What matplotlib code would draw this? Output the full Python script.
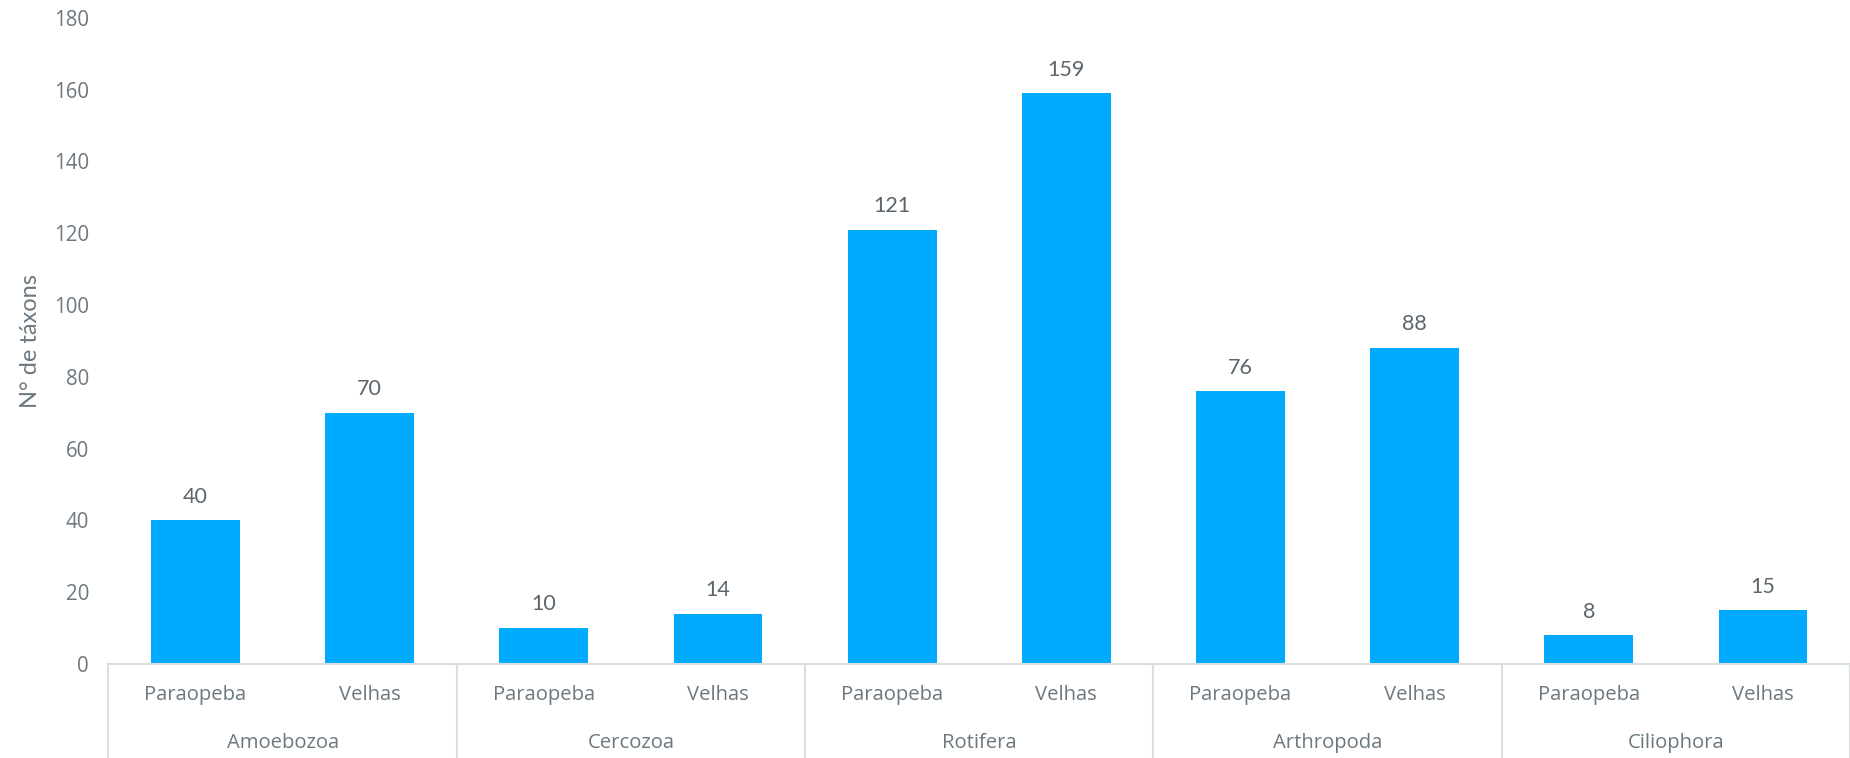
import matplotlib
matplotlib.use("Agg")
import matplotlib.pyplot as plt
from matplotlib.transforms import blended_transform_factory

groups = ["Amoebozoa", "Cercozoa", "Rotifera", "Arthropoda", "Ciliophora"]
rivers = ["Paraopeba", "Velhas"]
paraopeba = [40, 10, 121, 76, 8]
velhas = [70, 14, 159, 88, 15]
yticks = [0, 20, 40, 60, 80, 100, 120, 140, 160, 180]

bar_color = "#00AAFF"
text_color = "#6C7880"
label_color = "#5B656C"
line_color = "#D9DEDF"

values = []
for p, v in zip(paraopeba, velhas):
    values += [p, v]
pos = list(range(len(values)))

fig = plt.figure(figsize=(18.5, 7.58), dpi=100)
ax = fig.add_axes([0.0586, 0.124, 0.9414, 0.8526])

ax.bar(pos, values, width=0.51, color=bar_color, zorder=2)
ax.set_xlim(-0.5, len(values) - 0.5)
ax.set_ylim(0, 180)
ax.set_yticks(yticks)
ax.set_yticklabels([str(t) for t in yticks], fontsize=14.8,
                   color=text_color, family="Open Sans")
ax.tick_params(axis="y", length=0, pad=14)
ax.set_xticks([])

for s in ["left", "right", "top"]:
    ax.spines[s].set_visible(False)
ax.spines["bottom"].set_color(line_color)
ax.spines["bottom"].set_linewidth(1.5)

ax.set_ylabel("N° de táxons", fontsize=17, color=text_color,
              family="Lato", labelpad=9)

# value labels above bars
for x, v in zip(pos, values):
    ax.annotate(str(v), (x, v), xytext=(0, 17), textcoords="offset points",
                ha="center", va="center", fontsize=15.5, color=label_color,
                family="Lato")

# two-tier category axis below the plot
tr = blended_transform_factory(ax.transData, ax.transAxes)
bottom = -0.146
for g in range(len(groups) + 1):
    xb = g * 2 - 0.5
    ax.plot([xb, xb], [0, bottom], transform=tr, color=line_color,
            lw=1.5, clip_on=False)

for i, x in enumerate(pos):
    ax.text(x, -0.048, rivers[i % 2], transform=tr, ha="center", va="center",
            fontsize=14.6, color=text_color, family="Open Sans")

for g, name in enumerate(groups):
    ax.text(g * 2 + 0.5, -0.122, name, transform=tr, ha="center",
            va="center", fontsize=14.6, color=text_color, family="Open Sans")

fig.savefig("out.png", dpi=100)
